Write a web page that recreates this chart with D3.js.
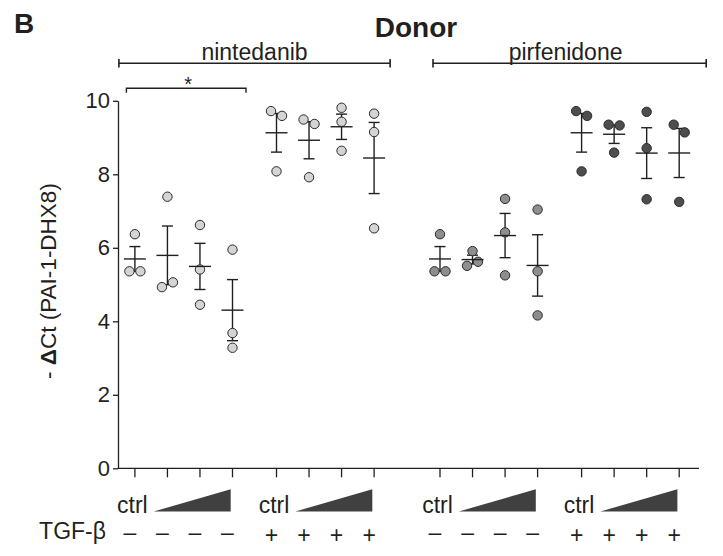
<!DOCTYPE html>
<html>
<head>
<meta charset="utf-8">
<script src="https://cdn.jsdelivr.net/npm/d3@7"></script>
<style>
  html, body { margin: 0; padding: 0; background: #fff; }
  svg { display: block; font-family: "Liberation Sans", Arial, Helvetica, sans-serif; }
</style>
</head>
<body>
<svg id="chart" width="723" height="556"></svg>
<script>
// ---------------- data ----------------
const drugs = ["nintedanib", "pirfenidone"];
const tgfLevels = ["–", "+"];
const doses = ["ctrl", "dose1", "dose2", "dose3"];
const yTicks = [0, 2, 4, 6, 8, 10];

// individual donors (3 per condition), - ΔCt values
const nintedanibMinus = [[6.37, 5.36, 5.36], [7.39, 4.93, 5.06], [6.62, 5.41, 4.45], [5.95, 3.68, 3.28]];
const nintedanibPlus  = [[9.72, 9.59, 8.08], [9.49, 9.37, 7.92], [9.81, 9.43, 8.64], [9.65, 9.15, 6.53]];
const pirfenidoneMinus = [[6.37, 5.36, 5.36], [5.91, 5.62, 5.51], [7.33, 6.42, 5.25], [7.04, 5.36, 4.16]];
const pirfenidonePlus  = [[9.72, 9.59, 8.08], [9.35, 9.33, 8.59], [9.70, 8.71, 7.32], [9.35, 9.14, 7.25]];

const fills = {
  "nintedanib|–": "#d4d4d4",
  "nintedanib|+": "#d4d4d4",
  "pirfenidone|–": "#8e8e8e",
  "pirfenidone|+": "#4e4e4e"
};

const seriesTable = [
  { drug: "nintedanib", tgf: "–", values: nintedanibMinus },
  { drug: "nintedanib", tgf: "+", values: nintedanibPlus },
  { drug: "pirfenidone", tgf: "–", values: pirfenidoneMinus },
  { drug: "pirfenidone", tgf: "+", values: pirfenidonePlus }
];

// ---------------- layout ----------------
const ink = "#231f20";
const svg = d3.select("#chart");

const y = d3.scaleLinear().domain([0, 10]).range([468.3, 100.8]);
const xDrug = d3.scalePoint().domain(drugs).range([254.5, 559.6]);
const xTgf = d3.scalePoint().domain(tgfLevels).range([-70.8, 70.8]);
const xDose = d3.scalePoint().domain(doses).range([-48.8, 48.8]);
const xPos = (drug, tgf, dose) => xDrug(drug) + xTgf(tgf) + xDose(dose);
const groupCenter = (drug, tgf) => xDrug(drug) + xTgf(tgf);

const axisX0 = 118, axisX1 = 699;

// ---------------- y axis ----------------
const yAxis = svg.append("g")
  .attr("transform", `translate(${axisX0},0)`)
  .call(d3.axisLeft(y).tickValues(yTicks).tickSize(5).tickSizeOuter(0).tickPadding(3).tickFormat(d3.format("d")));
yAxis.select(".domain").attr("stroke", ink).attr("stroke-width", 1.3);
yAxis.selectAll(".tick line").attr("stroke", ink).attr("stroke-width", 1.3);
yAxis.selectAll(".tick text")
  .attr("fill", ink)
  .style("font-size", "22px")
  .style("font-family", '"Liberation Sans", Arial, sans-serif');

// y title
const yt = svg.append("text")
  .attr("transform", `translate(56,281) rotate(-90)`)
  .attr("text-anchor", "middle")
  .attr("fill", ink)
  .style("font-size", "22.5px");
yt.append("tspan").text("- ");
yt.append("tspan").style("font-weight", "bold").text("Δ");
yt.append("tspan").text("Ct (PAI-1-DHX8)");

// ---------------- x axis ----------------
svg.append("line")
  .attr("x1", axisX0).attr("x2", axisX1)
  .attr("y1", y(0)).attr("y2", y(0))
  .attr("stroke", ink).attr("stroke-width", 1.3);

const allSlots = [];
drugs.forEach(dr => tgfLevels.forEach(t => doses.forEach(k => allSlots.push({ drug: dr, tgf: t, dose: k }))));
svg.append("g").selectAll("line").data(allSlots).join("line")
  .attr("x1", d => xPos(d.drug, d.tgf, d.dose))
  .attr("x2", d => xPos(d.drug, d.tgf, d.dose))
  .attr("y1", y(0)).attr("y2", y(0) + 9)
  .attr("stroke", ink).attr("stroke-width", 1.3);

// ctrl labels and dose wedges
const groups = [];
drugs.forEach(dr => tgfLevels.forEach(t => groups.push({ drug: dr, tgf: t })));
const lab = svg.append("g");
lab.selectAll("text.ctrl").data(groups).join("text")
  .attr("class", "ctrl")
  .attr("x", d => groupCenter(d.drug, d.tgf) - 36)
  .attr("y", 513)
  .attr("text-anchor", "end")
  .attr("fill", ink)
  .style("font-size", "23px")
  .text("ctrl");
lab.selectAll("path.wedge").data(groups).join("path")
  .attr("class", "wedge")
  .attr("d", d => {
    const c = groupCenter(d.drug, d.tgf);
    return `M${c - 30},511.5 L${c + 47},511.5 L${c + 47},489.3 Z`;
  })
  .attr("fill", "#404040");

// TGF-β row
svg.append("text")
  .attr("x", 106).attr("y", 539)
  .attr("text-anchor", "end")
  .attr("fill", ink)
  .style("font-size", "23px")
  .text("TGF-β");
lab.selectAll("text.sign").data(allSlots).join("text")
  .attr("class", "sign")
  .attr("x", d => xPos(d.drug, d.tgf, d.dose) - 5)
  .attr("y", d => d.tgf === "+" ? 543 : 540)
  .attr("text-anchor", "middle")
  .attr("fill", ink)
  .style("font-size", "23px")
  .text(d => d.tgf);

// ---------------- header ----------------
svg.append("text").attr("x", 14).attr("y", 33)
  .attr("fill", ink).style("font-size", "28px").style("font-weight", "bold").text("B");
svg.append("text").attr("x", 416).attr("y", 37)
  .attr("text-anchor", "middle")
  .attr("fill", ink).style("font-size", "28px").style("font-weight", "bold").text("Donor");

const drugBrackets = [
  { drug: "nintedanib", x0: xPos("nintedanib", "–", "ctrl") - 16, x1: xPos("nintedanib", "+", "dose3") + 16, lx: 0 },
  { drug: "pirfenidone", x0: xPos("pirfenidone", "–", "ctrl") - 7, x1: xPos("pirfenidone", "+", "dose3") + 27, lx: -4 }
];
const bY = 63.3;
const hb = svg.append("g");
drugBrackets.forEach(b => {
  hb.append("line").attr("x1", b.x0).attr("x2", b.x1).attr("y1", bY).attr("y2", bY)
    .attr("stroke", ink).attr("stroke-width", 1.4);
  [b.x0, b.x1].forEach(xx => hb.append("line").attr("x1", xx).attr("x2", xx)
    .attr("y1", bY - 4.2).attr("y2", bY + 4.2).attr("stroke", ink).attr("stroke-width", 1.6));
  hb.append("text").attr("x", (b.x0 + b.x1) / 2 + b.lx).attr("y", 60)
    .attr("text-anchor", "middle").attr("fill", ink).style("font-size", "23px").text(b.drug);
});

// significance bracket
const sx0 = xPos("nintedanib", "–", "ctrl") - 8.5;
const sx1 = xPos("nintedanib", "–", "dose3") + 13.5;
const sy = y(10.34);
svg.append("path")
  .attr("d", `M${sx0},${sy + 4.5} L${sx0},${sy} L${sx1},${sy} L${sx1},${sy + 4.5}`)
  .attr("fill", "none").attr("stroke", ink).attr("stroke-width", 1.4);
svg.append("text").attr("x", (sx0 + sx1) / 2 + 2).attr("y", sy + 3)
  .attr("text-anchor", "middle").attr("fill", ink).style("font-size", "20px").text("*");

// ---------------- points & error bars ----------------
const R = 4.7, DX = 5.5, COLLIDE = 12;
const pts = [];
const stats = [];
seriesTable.forEach(s => {
  s.values.forEach((vals, ki) => {
    const dose = doses[ki];
    const cx = xPos(s.drug, s.tgf, dose);
    // clusters of visually overlapping points
    const items = vals.map((v, i) => ({ v, i, py: y(v) }));
    const sorted = items.slice().sort((a, b) => a.py - b.py);
    const clusters = [];
    sorted.forEach((it, j) => {
      if (j > 0 && it.py - sorted[j - 1].py < COLLIDE) clusters[clusters.length - 1].push(it);
      else clusters.push([it]);
    });
    clusters.forEach(cl => {
      cl.sort((a, b) => a.i - b.i);
      const offs = cl.length === 1 ? [0] : cl.length === 2 ? [-DX, DX] : [0, DX, -DX];
      cl.forEach((it, j) => pts.push({ x: cx + offs[j], v: it.v, fill: fills[s.drug + "|" + s.tgf] }));
    });
    const m = d3.mean(vals);
    const sem = d3.deviation(vals) / Math.sqrt(vals.length);
    stats.push({ x: cx, m, lo: m - sem, hi: m + sem });
  });
});

const eb = svg.append("g").attr("stroke", ink).attr("stroke-width", 1.4).attr("fill", "none");
stats.forEach(s => {
  eb.append("line").attr("x1", s.x).attr("x2", s.x).attr("y1", y(s.lo)).attr("y2", y(s.hi));
  eb.append("line").attr("x1", s.x - 5.5).attr("x2", s.x + 5.5).attr("y1", y(s.lo)).attr("y2", y(s.lo));
  eb.append("line").attr("x1", s.x - 5.5).attr("x2", s.x + 5.5).attr("y1", y(s.hi)).attr("y2", y(s.hi));
});

svg.append("g").selectAll("circle").data(pts).join("circle")
  .attr("cx", d => d.x).attr("cy", d => y(d.v)).attr("r", R)
  .attr("fill", d => d.fill).attr("stroke", "#2a2a2a").attr("stroke-width", 1);

// mean lines drawn over the points
svg.append("g").selectAll("line").data(stats).join("line")
  .attr("x1", d => d.x - 11).attr("x2", d => d.x + 11)
  .attr("y1", d => y(d.m)).attr("y2", d => y(d.m))
  .attr("stroke", ink).attr("stroke-width", 1.4);
</script>
</body>
</html>
